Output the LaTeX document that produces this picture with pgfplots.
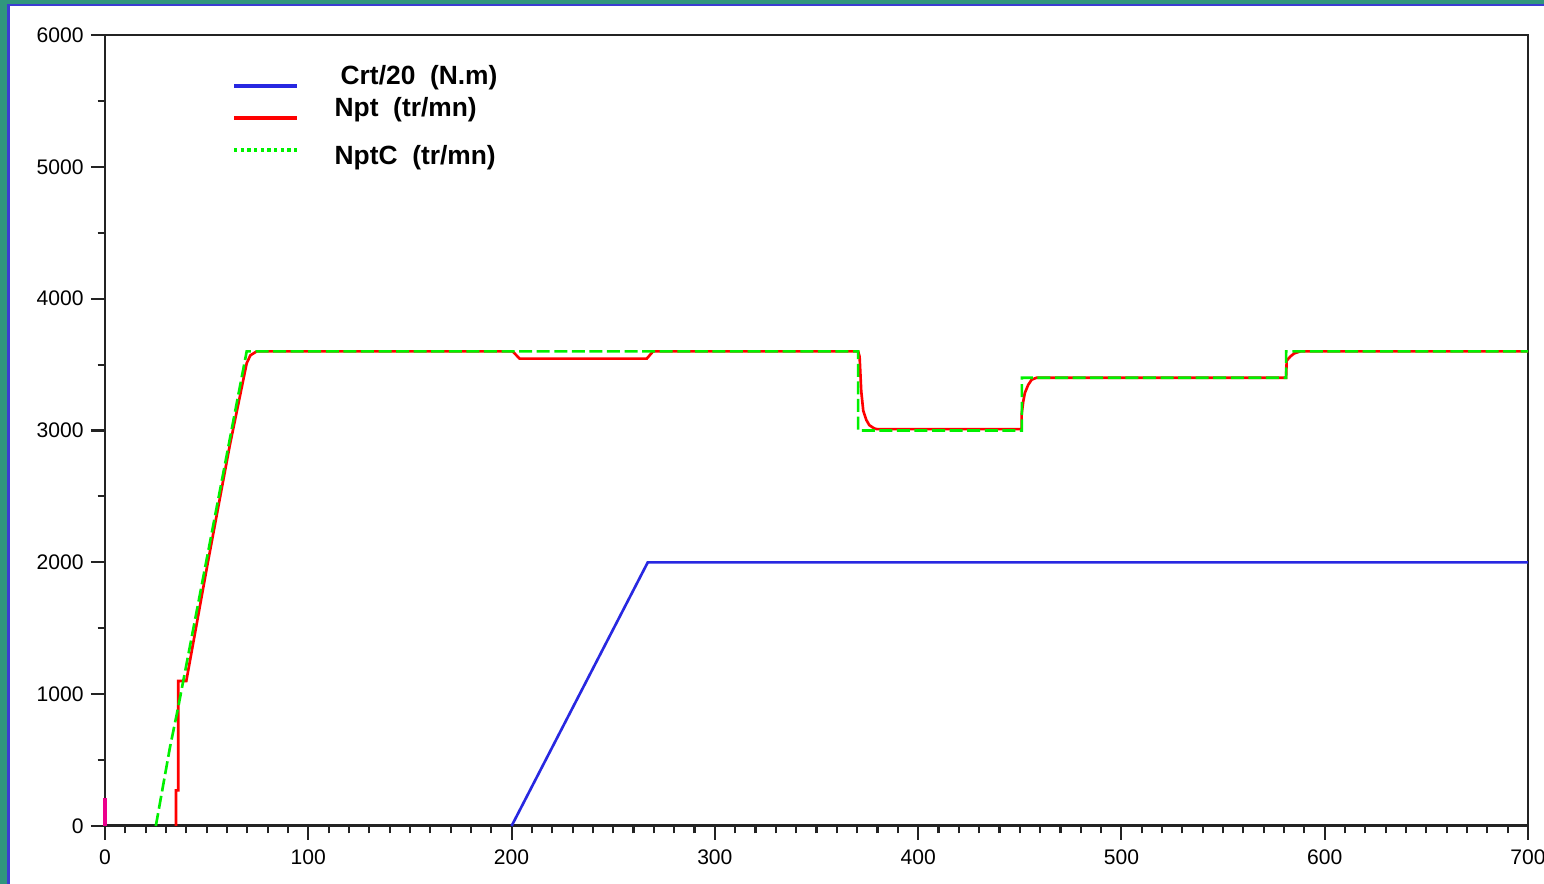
\documentclass[border=0pt]{standalone}
\usepackage{fontspec}
\setmainfont{Liberation Sans}
\usepackage{pgfplots}
\pgfplotsset{compat=1.18}
\definecolor{bgteal}{RGB}{48,150,125}
\definecolor{borderblue}{RGB}{60,60,210}
\definecolor{crtblue}{RGB}{40,40,225}
\definecolor{nptred}{RGB}{255,0,0}
\definecolor{nptcgreen}{RGB}{0,240,0}
\definecolor{axisgray}{RGB}{35,35,35}
\pgfplotsset{
  cadre/.style={
    at={(1.05cm,0.58cm)}, anchor=south west,
    scale only axis, width=14.23cm, height=7.91cm,
    xmin=0, xmax=700, ymin=0, ymax=6000,
    clip=false,
  },
}
\begin{document}
\begin{tikzpicture}[x=1cm,y=1cm]
\useasboundingbox (0,0) rectangle (15.44,8.84);
\fill[bgteal] (0,0) rectangle (15.44,8.84);
\fill[white] (0.085,0) rectangle (15.44,8.79);
\draw[borderblue, line width=0.6pt] (0.085,0) -- (0.085,8.79) -- (15.44,8.79);
\begin{axis}[
    cadre,
    xtick={0,100,...,700}, minor x tick num=9,
    ytick={0,1000,...,6000}, minor y tick num=1,
    xtick pos=bottom, ytick pos=left,
    tick align=outside,
    major tick length=0.14cm, minor tick length=0.075cm,
    axis line style={line width=0.85pt, axisgray},
    every tick/.style={line width=0.6pt, axisgray},
    ticklabel style={font=\fontsize{6}{7}\selectfont, text=black},
    yticklabel style={xshift=0.05cm},
    xticklabel style={yshift=0.03cm},
    /pgf/number format/assume math mode=true,
    /pgf/number format/1000 sep={},
]
% Npt
\addplot[nptred, line width=0.75pt] coordinates {
(34.9,0)(34.9,270)(36,270)(36,1100)(40,1100)(50.6,2000)(61.3,2880)(69.7,3510)
(71.5,3570)(74.6,3600)(200.5,3600)(204,3545)(266.5,3545)(269.6,3600)(370.5,3600)
(371.2,3560)(372,3300)(373,3150)(374.5,3080)(376,3040)(378.5,3015)(380,3010)
(450.9,3010)(450.9,3120)(451.7,3220)(452.5,3285)(454.1,3345)(455.8,3385)(458.2,3400)
(581,3400)(581.3,3530)(583,3560)(585,3585)(588,3600)(700,3600)};
% NptC
\addplot[nptcgreen, line width=0.75pt, dash pattern=on 3.7pt off 1.3pt] coordinates {
(25,0)(32,600)(36,900)(69.7,3600)(370.5,3600)(370.5,3000)(451,3000)(451,3400)
(581,3400)(581,3600)(700,3600)};
% Crt/20
\addplot[crtblue, line width=0.75pt] coordinates {
(200,0)(267,2000)(700,2000)};
\end{axis}
% marque a t=0, par-dessus l'axe
\begin{axis}[cadre, axis lines=none, ticks=none]
\addplot[magenta, line width=0.9pt] coordinates {(0,0)(0,210)};
\end{axis}
% legende
\draw[crtblue, line width=1pt] (2.34,7.98) -- (2.97,7.98);
\draw[nptred, line width=1pt] (2.34,7.66) -- (2.97,7.66);
\draw[nptcgreen, line width=0.95pt, dash pattern=on 0.95pt off 0.95pt] (2.34,7.34) -- (2.97,7.34);
\node[anchor=west, inner sep=0pt, font=\fontsize{7.5}{9}\selectfont\bfseries] at (3.40,8.06) {Crt/20\ \ (N.m)};
\node[anchor=west, inner sep=0pt, font=\fontsize{7.5}{9}\selectfont\bfseries] at (3.34,7.74) {Npt\ \ (tr/mn)};
\node[anchor=west, inner sep=0pt, font=\fontsize{7.5}{9}\selectfont\bfseries] at (3.34,7.26) {NptC\ \ (tr/mn)};
\end{tikzpicture}
\end{document}
